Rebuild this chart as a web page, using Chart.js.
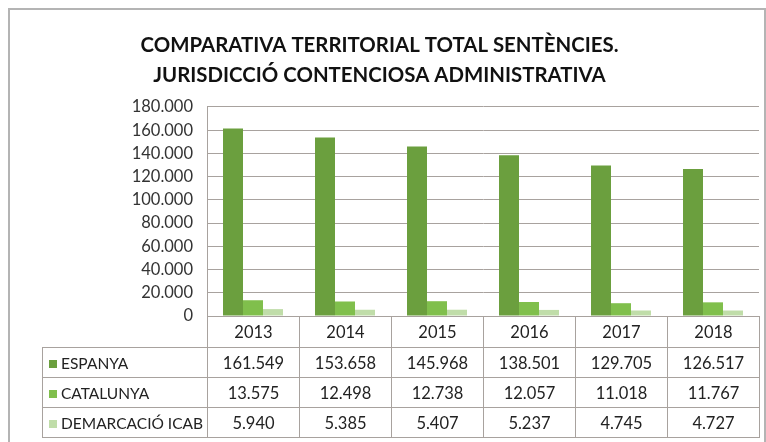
<!DOCTYPE html>
<html>
<head>
<meta charset="utf-8">
<script src="https://cdn.jsdelivr.net/npm/chart.js@4"></script>
<style>
  html, body { margin: 0; padding: 0; background: #fff; }
  #wrap { position: relative; width: 766px; height: 442px; overflow: hidden; }
  #frame { position: absolute; left: 8px; top: 8px; width: 758px; height: 450px; border: 2px solid #b4b4b4; box-sizing: border-box; }
  canvas { position: absolute; left: 0; top: 0; }
  #tbl { position: absolute; border-collapse: collapse; font-family: Lato, 'Open Sans', sans-serif; font-size: 16.5px; color: #222; }
  #tbl td { border: 1px solid #a8a29e; text-align: center; padding: 0; box-sizing: border-box; }
  #tbl td.blank { border: none; }
  #tbl td.name { text-align: left; padding-left: 6px; font-size: 15.5px; white-space: nowrap; }
  .sw { display: inline-block; width: 8px; height: 8px; margin-right: 4px; vertical-align: 1px; }
</style>
</head>
<body>
<div id="wrap">
  <div id="frame"></div>
  <canvas id="c" width="766" height="442"></canvas>
  <table id="tbl"></table>
</div>
<script>
const years = ['2013', '2014', '2015', '2016', '2017', '2018'];
const espanya = [161549, 153658, 145968, 138501, 129705, 126517];
const catalunya = [13575, 12498, 12738, 12057, 11018, 11767];
const demarcacio = [5940, 5385, 5407, 5237, 4745, 4727];
const seriesNames = ['ESPANYA', 'CATALUNYA', 'DEMARCACIÓ ICAB'];
const seriesColors = ['#6b9f3e', '#80bf4c', '#c0dda9'];
const titleLines = ['COMPARATIVA TERRITORIAL TOTAL SENTÈNCIES.', 'JURISDICCIÓ CONTENCIOSA ADMINISTRATIVA'];

function fmt(v) {
  return String(v).replace(/\B(?=(\d{3})+(?!\d))/g, '.');
}

const chart = new Chart(document.getElementById('c'), {
  type: 'bar',
  data: {
    labels: years,
    datasets: [
      { label: seriesNames[0], data: espanya, backgroundColor: seriesColors[0] },
      { label: seriesNames[1], data: catalunya, backgroundColor: seriesColors[1] },
      { label: seriesNames[2], data: demarcacio, backgroundColor: seriesColors[2] },
    ]
  },
  options: {
    responsive: false,
    animation: false,
    categoryPercentage: 0.652,
    barPercentage: 1,
    layout: { padding: { left: 0, right: 7, top: 0, bottom: 0 } },
    plugins: {
      legend: { display: false },
      tooltip: { enabled: false },
      title: {
        display: true,
        text: titleLines,
        color: '#111',
        font: { family: 'Lato, "Open Sans", sans-serif', size: 20.4, weight: 'bold', lineHeight: 1.47 },
        padding: { top: 30, bottom: 17 }
      }
    },
    scales: {
      x: {
        grid: { display: false },
        border: { display: false },
        ticks: { display: false },
        afterFit: (scale) => { scale.height = 126; }
      },
      y: {
        min: 0,
        max: 180000,
        ticks: {
          stepSize: 20000,
          padding: 14,
          color: '#333',
          font: { family: 'Lato, "Open Sans", sans-serif', size: 16.5 },
          callback: (v) => fmt(v)
        },
        grid: { color: '#a8a29e', drawTicks: false },
        border: { color: '#a8a29e' },
        afterFit: (scale) => { scale.width = 207; }
      }
    }
  }
});

// data table under the plot, aligned to the category columns
function buildTable() {
  const area = chart.chartArea;
  const colW = (area.right - area.left) / years.length;
  const tbl = document.getElementById('tbl');
  const nameLeft = 42;
  tbl.style.left = nameLeft + 'px';
  tbl.style.top = area.bottom + 'px';

  let html = '<colgroup><col style="width:' + (area.left - nameLeft) + 'px">';
  years.forEach(() => { html += '<col style="width:' + colW + 'px">'; });
  html += '</colgroup>';
  html += '<tr style="height:31px"><td class="blank"></td>';
  years.forEach((y) => { html += '<td>' + y + '</td>'; });
  html += '</tr>';
  const rows = [espanya, catalunya, demarcacio];
  rows.forEach((vals, i) => {
    html += '<tr style="height:30px"><td class="name"><span class="sw" style="background:' + seriesColors[i] + '"></span>' + seriesNames[i] + '</td>';
    vals.forEach((v) => { html += '<td>' + fmt(v) + '</td>'; });
    html += '</tr>';
  });
  tbl.style.tableLayout = 'fixed';
  tbl.style.width = (area.right - nameLeft) + 'px';
  tbl.innerHTML = html;
}
buildTable();
</script>
</body>
</html>
